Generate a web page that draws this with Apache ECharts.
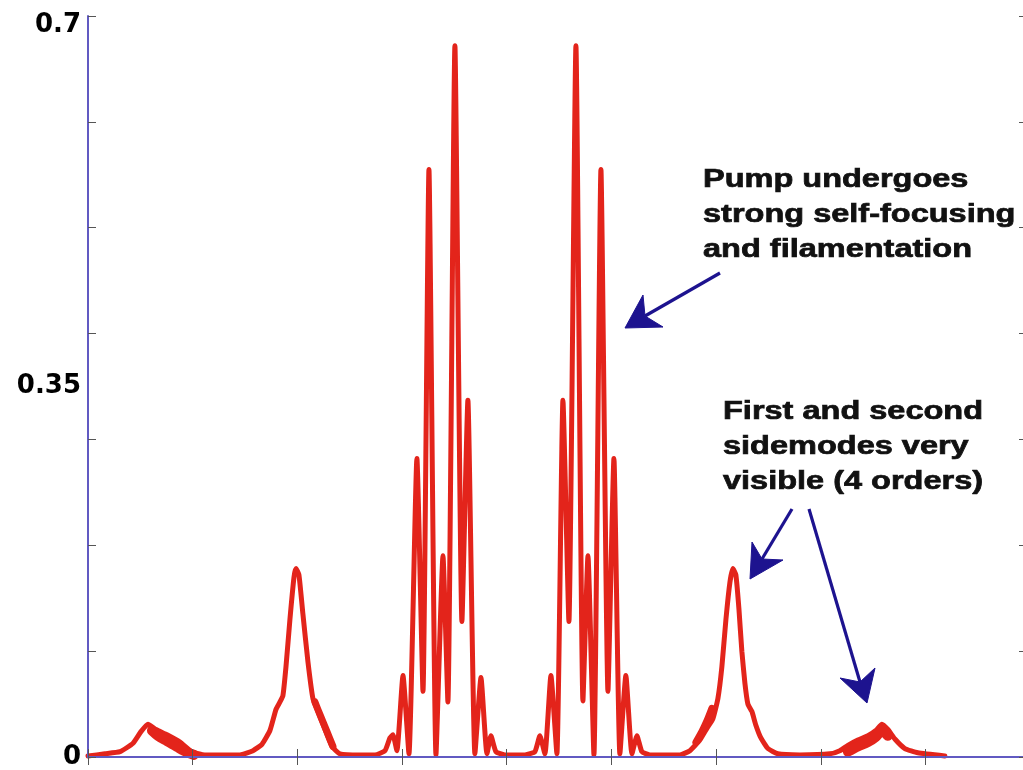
<!DOCTYPE html>
<html>
<head>
<meta charset="utf-8">
<script src="https://cdn.jsdelivr.net/npm/echarts@6/dist/echarts.min.js"></script>
<style>
  html, body { margin: 0; padding: 0; background: #fff; }
  #chart { width: 1023px; height: 770px; }
</style>
</head>
<body>
<div id="chart"></div>
<script>
// spectrum, x in tick units (ticks every 1), y in intensity
var outerLeft = [[0, 0.001], [0.162, 0.003], [0.306, 0.005], [0.430, 0.013], [0.506, 0.024], [0.573, 0.031],
  [0.649, 0.026], [0.755, 0.021], [0.879, 0.014], [0.993, 0.005], [1.117, 0.002], [1.452, 0.002]];
var sideLeft = [[1.576, 0.006], [1.662, 0.012], [1.738, 0.025], [1.796, 0.045], [1.834, 0.052], [1.862, 0.058],
  [1.891, 0.085], [1.929, 0.13], [1.968, 0.17], [1.987, 0.178], [2.015, 0.172], [2.053, 0.135], [2.101, 0.09],
  [2.149, 0.055], [2.197, 0.043], [2.264, 0.026], [2.330, 0.01], [2.407, 0.003], [2.598, 0.002]];
var pumpLeft = [[2.741, 0.002], [2.837, 0.006], [2.884, 0.018], [2.913, 0.021], [2.951, 0.006], [3.009, 0.077],
  [3.066, 0.003], [3.142, 0.282], [3.200, 0.062], [3.257, 0.555], [3.324, 0.002], [3.391, 0.19], [3.438, 0.052],
  [3.505, 0.672], [3.572, 0.128], [3.629, 0.337], [3.696, 0.003], [3.754, 0.075], [3.811, 0.003], [3.849, 0.02],
  [3.897, 0.005], [3.983, 0.002]];
var pumpRight = [[4.174, 0.002], [4.269, 0.005], [4.317, 0.02], [4.365, 0.003], [4.422, 0.077], [4.479, 0.003],
  [4.537, 0.337], [4.594, 0.128], [4.661, 0.672], [4.728, 0.053], [4.776, 0.19], [4.833, 0.002], [4.900, 0.555],
  [4.967, 0.062], [5.024, 0.282], [5.081, 0.003], [5.138, 0.077], [5.196, 0.003], [5.244, 0.02], [5.291, 0.005],
  [5.368, 0.002]];
var sideRight = [[5.654, 0.002], [5.750, 0.006], [5.845, 0.016], [5.912, 0.027], [5.969, 0.036], [6.017, 0.055],
  [6.055, 0.085], [6.094, 0.13], [6.132, 0.165], [6.160, 0.178], [6.189, 0.172], [6.218, 0.14], [6.246, 0.1],
  [6.275, 0.07], [6.304, 0.05], [6.342, 0.043], [6.380, 0.03], [6.428, 0.018], [6.495, 0.008], [6.590, 0.003],
  [6.800, 0.002]];
var outerRight = [[7.087, 0.003], [7.182, 0.006], [7.259, 0.011], [7.354, 0.016], [7.450, 0.02], [7.526, 0.025],
  [7.584, 0.031], [7.641, 0.026], [7.708, 0.017], [7.803, 0.008], [7.927, 0.004], [8.185, 0.001]];

// thick smeared parts of the trace
var bandOuterLeft = [[0.611, 0.025], [0.669, 0.02], [0.755, 0.015], [0.860, 0.009], [0.955, 0.004], [1.012, 0.002]];
var bandSideLeft = [[2.168, 0.052], [2.216, 0.04], [2.283, 0.024], [2.340, 0.01]];
var bandSideRight = [[5.807, 0.014], [5.864, 0.024], [5.912, 0.034], [5.960, 0.046]];
var bandOuterRight = [[7.259, 0.005], [7.354, 0.01], [7.450, 0.014], [7.526, 0.019], [7.584, 0.025], [7.641, 0.02]];

var yLabels = [0, 0.35, 0.7];

var spectrum = [].concat(outerLeft, sideLeft, pumpLeft, pumpRight, sideRight, outerRight);

var RED = '#e3241b';
var FRAME = '#615ac2';
var NAVY = '#1d138f';

var chart = echarts.init(document.getElementById('chart'));

function bandSeries(data, w) {
  return {
    type: 'line', data: data, showSymbol: false, silent: true, smooth: 0.3,
    lineStyle: { color: RED, width: w, cap: 'round', join: 'round' }
  };
}

function arrow(tail, notch, tip, b1, b2) {
  return [
    { type: 'polyline', shape: { points: [tail, notch] }, style: { stroke: NAVY, lineWidth: 3.2 }, z: 10 },
    { type: 'polygon', shape: { points: [tip, b1, notch, b2] }, style: { fill: NAVY, stroke: NAVY, lineWidth: 1 }, z: 10 }
  ];
}

function note(x, y, text) {
  return {
    type: 'text', x: x, y: y, scaleX: 1.3, z: 10,
    style: {
      x: 0, y: 0, text: text, fill: '#111', stroke: '#111', lineWidth: 0.7, lineHeight: 35,
      font: 'bold 25px "Liberation Sans", Arial, sans-serif', verticalAlign: 'top'
    }
  };
}

var axisTicks = { show: true, inside: true, length: 8, lineStyle: { color: '#555', width: 1 } };

var option = {
  animation: false,
  grid: { left: 88, top: 16, right: -4, bottom: 13, containLabel: false, outerBoundsMode: 'none' },
  xAxis: [
    { type: 'value', min: 0, max: 8.97, interval: 1, position: 'bottom', z: 5,
      axisLine: { lineStyle: { color: FRAME, width: 2 } }, axisTick: axisTicks,
      axisLabel: { show: false }, splitLine: { show: false } },
    { type: 'value', min: 0, max: 8.97, interval: 1, position: 'top', z: 5,
      axisLine: { lineStyle: { color: FRAME, width: 2 } }, axisTick: axisTicks,
      axisLabel: { show: false }, splitLine: { show: false } }
  ],
  yAxis: [
    { type: 'value', min: 0, max: 0.7, interval: 0.35, position: 'left', z: 5,
      axisLine: { show: true, lineStyle: { color: FRAME, width: 2 } }, axisTick: { show: false },
      splitLine: { show: false },
      axisLabel: {
        margin: 7, color: '#000', fontSize: 26, fontWeight: 'bold', fontFamily: '"DejaVu Sans"',
        formatter: function (v) {
          var s = yLabels.find(function (l) { return Math.abs(l - v) < 1e-6; });
          if (s === undefined) return '';
          return v > 0.6 ? '{top|' + s + '}' : String(s);
        },
        rich: { top: { fontSize: 26, fontWeight: 'bold', fontFamily: '"DejaVu Sans"', color: '#000', padding: [18, 0, 0, 0] } }
      } },
    { type: 'value', min: 0, max: 0.7, interval: 0.1, position: 'left', z: 5,
      axisLine: { show: false }, axisTick: axisTicks, axisLabel: { show: false }, splitLine: { show: false } },
    { type: 'value', min: 0, max: 0.7, interval: 0.1, position: 'right', z: 5,
      axisLine: { show: true, lineStyle: { color: FRAME, width: 2 } }, axisTick: axisTicks,
      axisLabel: { show: false }, splitLine: { show: false } }
  ],
  series: [
    {
      type: 'line', data: spectrum, showSymbol: false, silent: true, smooth: 0.15,
      lineStyle: { color: RED, width: 5, cap: 'round', join: 'round' }
    },
    bandSeries(bandOuterLeft, 10),
    bandSeries(bandSideLeft, 7),
    bandSeries(bandSideRight, 7),
    bandSeries(bandOuterRight, 10)
  ],
  graphic: [].concat(
    arrow([720, 273], [645, 316], [625, 328], [643, 295], [663, 327]),
    arrow([792, 509], [762, 559], [750, 579], [752, 542], [783, 560]),
    arrow([809, 509], [860, 682], [867, 703], [840, 678], [875, 668]),
    [note(703, 163, 'Pump undergoes\nstrong self-focusing\nand filamentation'),
     note(723, 395, 'First and second\nsidemodes very\nvisible (4 orders)')]
  )
};

chart.setOption(option);
</script>
</body>
</html>
